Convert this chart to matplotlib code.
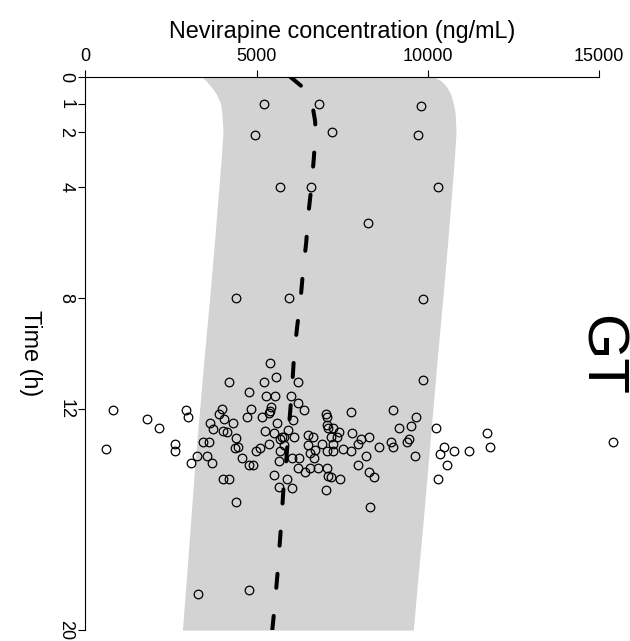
"""Nevirapine concentration vs time (GT group): observed points over a simulated
prediction band with its median, drawn rotated (time runs down the page)."""

import matplotlib

matplotlib.use("Agg")
import matplotlib.pyplot as plt
import numpy as np

plt.rcParams["font.family"] = ["Liberation Sans", "DejaVu Sans"]

# prediction band (time in h, lower/upper concentration in ng/mL)
band_time = [0, 0.15, 0.36, 0.6, 0.96, 1.32, 2, 3, 4, 6, 8, 10, 12, 14, 16, 18, 20]
band_lower = [3400, 3530, 3670, 3815, 3950, 3990, 4020, 3965, 3900, 3770, 3630,
              3480, 3340, 3200, 3080, 2960, 2835]
band_upper = [10165, 10390, 10550, 10660, 10745, 10800, 10825, 10775, 10710, 10580,
              10440, 10290, 10150, 10010, 9870, 9720, 9577]

# median of the simulations
median_time = [0, 0.4, 0.8, 1.2, 1.6, 2, 3, 4, 5, 6, 7, 8, 9, 10, 11, 12, 13, 14,
               15, 16, 17, 18, 19, 20]
median_conc = [5980, 6370, 6560, 6655, 6710, 6725, 6670, 6600, 6510, 6450, 6360,
               6290, 6190, 6100, 6050, 5990, 5920, 5860, 5780, 5730, 5670, 5610,
               5540, 5460]

# observed samples
obs_time = [
    1.0, 1.0, 1.05, 2.1, 2.0, 2.1, 4.0, 4.0, 4.0, 5.3, 8.0, 8.0, 8.05,
    15.38, 15.54, 18.7, 18.55,
    10.96, 12.03, 12.29, 12.62, 12.71, 13.1, 13.03, 13.37, 13.19, 13.37, 13.19,
    13.09, 13.7, 13.7, 14.29, 14.46, 12.71, 13.37, 13.62, 13.54, 14.04, 14.53,
    13.54, 12.88, 13.37, 13.19,
    12.05, 13.44, 12.37, 12.7, 12.03, 12.3, 13.27, 13.54, 13.95, 13.7, 13.7,
    13.95, 13.19, 13.19, 12.52, 12.72, 12.02, 12.19, 12.38, 12.79, 12.85, 12.53,
    11.03, 13.05, 13.43, 13.37, 13.79, 14.53, 14.53, 11.4, 12.02, 12.29, 14.03,
    14.03, 13.53, 13.43, 13.29, 12.29, 11.03, 10.36, 10.86, 11.54, 11.54, 11.93,
    12.07, 12.14, 12.79, 12.87, 12.53, 13.1, 13.03, 13.01, 13.53, 13.31, 13.88,
    14.38, 14.82, 14.53, 14.87, 12.77, 11.54, 11.8, 12.05, 11.03, 12.41, 13.03,
    13.79, 13.79, 14.13, 14.29, 14.15, 14.13, 12.95, 13.03, 13.31, 13.49, 13.61,
    13.79, 13.29, 14.15, 14.43, 14.48, 14.53, 14.94, 12.19, 12.31, 12.6, 12.71,
    12.71, 12.84, 13.01, 13.03, 13.29, 13.53, 13.53, 13.44, 12.13, 12.87, 13.53,
    13.29, 14.03,
]
obs_conc = [
    5230, 6830, 9800, 4955, 7195, 9725, 5685, 6600, 10305, 8245, 4410, 5945, 9870,
    4390, 8300, 3300, 4770,
    9850, 8985, 9665, 9520, 9150, 8040, 8290, 8585, 8915, 8995, 9385,
    9450, 9635, 8185, 8290, 8440, 10240, 10465, 10350, 10775, 10550, 10290,
    11210, 11730, 11805, 15415,
    818, 596, 1801, 2143, 2931, 3007, 2628, 2610, 3077, 3270, 3562,
    3708, 3428, 3620, 3632, 3737, 3982, 3912, 4050, 4012, 4129, 4321,
    4187, 4391, 4371, 4467, 4575, 4012, 4187, 4771, 4829, 4712, 4788,
    4905, 4993, 5101, 5372, 5150, 5209, 5393, 5568, 5276, 5539, 5431,
    5393, 5355, 5255, 5501, 5597, 5685, 5743, 5810, 5685, 5810, 5656,
    5518, 5664, 5880, 6035, 5927, 6015, 6201, 6394, 6210, 6073, 6102,
    6035, 6248, 6201, 6423, 6560, 6785, 6511, 6640, 6502, 6706, 6560,
    6686, 6920, 7048, 7095, 7165, 7436, 7028, 7019, 7048, 7066, 7077,
    7241, 7416, 7165, 7358, 7241, 7048, 7223, 7515, 7749, 7778, 7749,
    7971, 7971,
]

conc_ticks = [0, 5000, 10000, 15000]
time_ticks = [0, 1, 2, 4, 8, 12, 20]
group_label = "GT"

W, H = 630, 641
fig = plt.figure(figsize=(W / 100, H / 100), dpi=100)
ax = fig.add_axes([85.3 / W, (H - 630.1) / H, (599.0 - 85.3) / W, (630.1 - 76.7) / H])

ax.fill_betweenx(band_time, band_lower, band_upper, color="#d3d3d3", linewidth=0)
ax.plot(median_conc, median_time, color="black", linewidth=2.9,
        dashes=(3.5, 7), dash_capstyle="round", solid_capstyle="round")
ax.plot(obs_conc, obs_time, linestyle="none", marker="o", markersize=6.2,
        markerfacecolor="none", markeredgecolor="black", markeredgewidth=0.9,
        clip_on=False)

ax.set_xlim(0, 15000)
ax.set_ylim(20, 0)

for side in ("bottom", "right"):
    ax.spines[side].set_visible(False)
for side in ("top", "left"):
    ax.spines[side].set_linewidth(0.8)

ax.xaxis.tick_top()
ax.xaxis.set_label_position("top")
ax.set_xticks(conc_ticks)
ax.set_yticks(time_ticks)
ax.tick_params(axis="x", length=5, width=0.8, pad=3.5, labelsize=13)
ax.tick_params(axis="y", length=5, width=0.8, pad=3, labelsize=13, labelrotation=-90)
for lab in ax.get_yticklabels():
    lab.set_va("center")

ax.set_xlabel("Nevirapine concentration (ng/mL)", fontsize=16.8, labelpad=7)
ax.set_ylabel("Time (h)", fontsize=16.8, rotation=-90, va="center")
ax.yaxis.set_label_coords(-55 / (599.0 - 85.3), 0.5)

# group tag, written along the time axis like the rest of the rotated figure
ax.text(14590, 10.06, group_label, rotation=-90, rotation_mode="anchor",
        ha="center", va="baseline", fontsize=42, clip_on=False)

fig.savefig("out.png", dpi=100)
